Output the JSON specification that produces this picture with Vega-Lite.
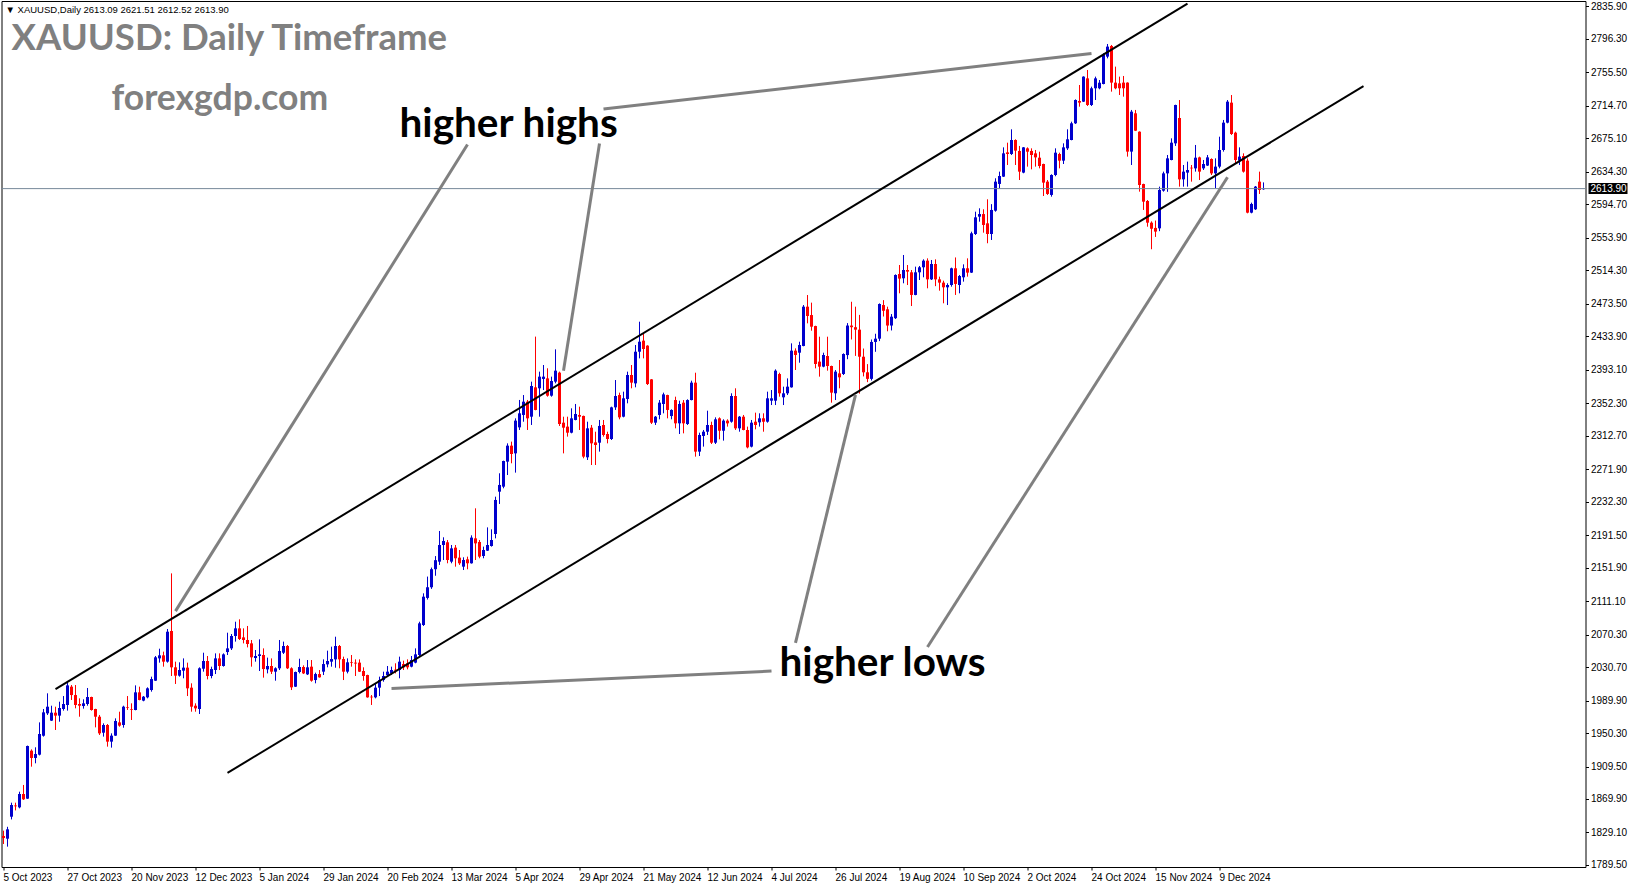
{
"$schema": "https://vega.github.io/schema/vega-lite/v6.json",
"width": 1584, "height": 866,
"autosize": {"type": "none"},
"padding": {"left": 1.5, "top": 1, "right": 45.5, "bottom": 21},
"background": "white",
"config": {"view": {"stroke": "#000000", "strokeWidth": 1}, "axis": {"labelFont": "Liberation Sans", "labelFontSize": 10, "labelColor": "#000000", "grid": false, "title": null, "labelOverlap": false}},
"datasets": {
"candles": [
{"d":"2023-10-05","o":1824.8,"h":1831.3,"l":1815.0,"c":1822.3},
{"d":"2023-10-06","o":1821.5,"h":1836.0,"l":1811.8,"c":1832.9},
{"d":"2023-10-09","o":1848.3,"h":1865.4,"l":1845.0,"c":1862.6},
{"d":"2023-10-10","o":1862.0,"h":1865.4,"l":1856.0,"c":1861.0},
{"d":"2023-10-11","o":1859.7,"h":1878.8,"l":1858.5,"c":1876.0},
{"d":"2023-10-12","o":1876.0,"h":1887.0,"l":1868.7,"c":1869.5},
{"d":"2023-10-13","o":1870.3,"h":1935.0,"l":1870.0,"c":1934.5},
{"d":"2023-10-16","o":1928.8,"h":1930.4,"l":1909.3,"c":1919.9},
{"d":"2023-10-17","o":1919.9,"h":1932.9,"l":1913.4,"c":1924.7},
{"d":"2023-10-18","o":1923.9,"h":1963.3,"l":1923.0,"c":1949.1},
{"d":"2023-10-19","o":1947.0,"h":1979.6,"l":1945.9,"c":1975.5},
{"d":"2023-10-20","o":1974.3,"h":1998.7,"l":1972.3,"c":1982.4},
{"d":"2023-10-23","o":1965.4,"h":1983.6,"l":1965.0,"c":1975.1},
{"d":"2023-10-24","o":1975.1,"h":1982.4,"l":1954.0,"c":1971.5},
{"d":"2023-10-25","o":1971.5,"h":1988.5,"l":1964.1,"c":1980.8},
{"d":"2023-10-26","o":1979.6,"h":1995.4,"l":1977.6,"c":1985.7},
{"d":"2023-10-27","o":1984.5,"h":2012.9,"l":1977.6,"c":2008.4},
{"d":"2023-10-30","o":2006.8,"h":2008.8,"l":1990.6,"c":1996.6},
{"d":"2023-10-31","o":1996.6,"h":2008.8,"l":1980.4,"c":1984.5},
{"d":"2023-11-01","o":1985.7,"h":1992.6,"l":1970.2,"c":1983.6},
{"d":"2023-11-02","o":1983.2,"h":1991.4,"l":1980.0,"c":1986.5},
{"d":"2023-11-03","o":1985.7,"h":2005.2,"l":1983.6,"c":1994.2},
{"d":"2023-11-06","o":1994.2,"h":1994.6,"l":1977.6,"c":1978.4},
{"d":"2023-11-07","o":1979.6,"h":1979.9,"l":1957.2,"c":1970.2},
{"d":"2023-11-08","o":1970.2,"h":1972.3,"l":1947.9,"c":1949.9},
{"d":"2023-11-09","o":1950.7,"h":1962.1,"l":1945.9,"c":1960.1},
{"d":"2023-11-10","o":1960.1,"h":1961.3,"l":1933.7,"c":1939.8},
{"d":"2023-11-13","o":1939.8,"h":1949.9,"l":1932.5,"c":1947.1},
{"d":"2023-11-14","o":1947.1,"h":1968.2,"l":1946.8,"c":1965.0},
{"d":"2023-11-15","o":1963.3,"h":1976.3,"l":1958.0,"c":1959.3},
{"d":"2023-11-16","o":1960.1,"h":1983.6,"l":1956.8,"c":1982.4},
{"d":"2023-11-17","o":1981.6,"h":1995.4,"l":1978.4,"c":1980.8},
{"d":"2023-11-20","o":1979.2,"h":1986.5,"l":1966.2,"c":1978.4},
{"d":"2023-11-21","o":1978.4,"h":2008.4,"l":1978.0,"c":1999.9},
{"d":"2023-11-22","o":1999.9,"h":2006.8,"l":1990.2,"c":1990.6},
{"d":"2023-11-23","o":1989.8,"h":1995.4,"l":1989.0,"c":1994.6},
{"d":"2023-11-24","o":1993.8,"h":2006.0,"l":1992.6,"c":2004.8},
{"d":"2023-11-27","o":2002.7,"h":2019.0,"l":2000.7,"c":2016.1},
{"d":"2023-11-28","o":2014.1,"h":2044.2,"l":2013.8,"c":2042.6},
{"d":"2023-11-29","o":2041.3,"h":2053.1,"l":2036.1,"c":2045.0},
{"d":"2023-11-30","o":2045.0,"h":2049.5,"l":2031.2,"c":2037.3},
{"d":"2023-12-01","o":2037.3,"h":2077.1,"l":2036.1,"c":2073.8},
{"d":"2023-12-04","o":2074.7,"h":2144.9,"l":2019.8,"c":2030.4},
{"d":"2023-12-05","o":2030.4,"h":2037.3,"l":2010.1,"c":2020.2},
{"d":"2023-12-06","o":2020.2,"h":2036.5,"l":2019.0,"c":2027.1},
{"d":"2023-12-07","o":2026.3,"h":2041.3,"l":2017.0,"c":2030.0},
{"d":"2023-12-08","o":2030.0,"h":2036.1,"l":1995.4,"c":2004.8},
{"d":"2023-12-11","o":2005.6,"h":2010.9,"l":1976.3,"c":1982.4},
{"d":"2023-12-12","o":1983.6,"h":1986.5,"l":1976.3,"c":1980.4},
{"d":"2023-12-13","o":1979.6,"h":2030.4,"l":1973.5,"c":2029.2},
{"d":"2023-12-14","o":2028.7,"h":2048.2,"l":2025.1,"c":2038.1},
{"d":"2023-12-15","o":2038.1,"h":2044.2,"l":2015.7,"c":2019.8},
{"d":"2023-12-18","o":2019.8,"h":2031.2,"l":2017.0,"c":2028.3},
{"d":"2023-12-19","o":2027.1,"h":2047.4,"l":2022.2,"c":2041.3},
{"d":"2023-12-20","o":2041.3,"h":2047.4,"l":2027.1,"c":2032.0},
{"d":"2023-12-21","o":2032.0,"h":2047.4,"l":2031.2,"c":2046.2},
{"d":"2023-12-22","o":2049.0,"h":2072.6,"l":2045.4,"c":2053.5},
{"d":"2023-12-26","o":2053.5,"h":2071.0,"l":2051.5,"c":2068.6},
{"d":"2023-12-27","o":2068.6,"h":2086.0,"l":2061.7,"c":2077.9},
{"d":"2023-12-28","o":2077.9,"h":2088.9,"l":2063.7,"c":2064.9},
{"d":"2023-12-29","o":2066.9,"h":2077.9,"l":2059.6,"c":2063.7},
{"d":"2024-01-02","o":2063.7,"h":2080.8,"l":2054.7,"c":2058.8},
{"d":"2024-01-03","o":2059.6,"h":2063.7,"l":2031.2,"c":2042.6},
{"d":"2024-01-04","o":2041.7,"h":2051.5,"l":2037.3,"c":2044.2},
{"d":"2024-01-05","o":2044.2,"h":2064.5,"l":2025.9,"c":2046.2},
{"d":"2024-01-08","o":2045.4,"h":2053.5,"l":2017.8,"c":2028.3},
{"d":"2024-01-09","o":2027.9,"h":2042.2,"l":2023.0,"c":2032.0},
{"d":"2024-01-10","o":2032.0,"h":2041.3,"l":2022.2,"c":2025.1},
{"d":"2024-01-11","o":2025.1,"h":2030.4,"l":2014.1,"c":2029.2},
{"d":"2024-01-12","o":2029.2,"h":2063.7,"l":2027.1,"c":2050.3},
{"d":"2024-01-15","o":2048.2,"h":2061.7,"l":2046.6,"c":2056.4},
{"d":"2024-01-16","o":2056.4,"h":2057.6,"l":2028.3,"c":2029.2},
{"d":"2024-01-17","o":2029.2,"h":2030.4,"l":2002.7,"c":2006.0},
{"d":"2024-01-18","o":2006.8,"h":2025.2,"l":2006.4,"c":2024.7},
{"d":"2024-01-19","o":2024.7,"h":2040.9,"l":2023.0,"c":2030.8},
{"d":"2024-01-22","o":2030.8,"h":2032.8,"l":2022.2,"c":2023.0},
{"d":"2024-01-23","o":2021.8,"h":2039.3,"l":2021.0,"c":2030.4},
{"d":"2024-01-24","o":2031.2,"h":2039.3,"l":2012.9,"c":2014.1},
{"d":"2024-01-25","o":2014.9,"h":2023.9,"l":2010.9,"c":2022.2},
{"d":"2024-01-26","o":2022.2,"h":2027.1,"l":2017.8,"c":2018.2},
{"d":"2024-01-29","o":2025.1,"h":2040.1,"l":2021.0,"c":2034.4},
{"d":"2024-01-30","o":2034.0,"h":2050.7,"l":2030.4,"c":2038.1},
{"d":"2024-01-31","o":2037.3,"h":2055.6,"l":2031.2,"c":2040.5},
{"d":"2024-02-01","o":2040.1,"h":2067.7,"l":2029.9,"c":2056.4},
{"d":"2024-02-02","o":2056.4,"h":2057.6,"l":2029.2,"c":2040.1},
{"d":"2024-02-05","o":2040.5,"h":2043.4,"l":2014.9,"c":2025.1},
{"d":"2024-02-06","o":2025.1,"h":2041.3,"l":2023.0,"c":2036.5},
{"d":"2024-02-07","o":2036.5,"h":2045.4,"l":2031.2,"c":2035.7},
{"d":"2024-02-08","o":2036.1,"h":2040.1,"l":2019.8,"c":2035.0},
{"d":"2024-02-09","o":2036.1,"h":2040.1,"l":2024.7,"c":2025.1},
{"d":"2024-02-12","o":2025.9,"h":2030.4,"l":2014.1,"c":2019.8},
{"d":"2024-02-13","o":2021.0,"h":2021.4,"l":1993.4,"c":1993.8},
{"d":"2024-02-14","o":1994.6,"h":1996.6,"l":1984.5,"c":1993.8},
{"d":"2024-02-15","o":1993.8,"h":2010.9,"l":1992.6,"c":2005.6},
{"d":"2024-02-16","o":2005.6,"h":2019.0,"l":1995.4,"c":2014.9},
{"d":"2024-02-19","o":2014.9,"h":2025.1,"l":2012.9,"c":2019.8},
{"d":"2024-02-20","o":2021.0,"h":2032.0,"l":2018.9,"c":2025.1},
{"d":"2024-02-21","o":2023.0,"h":2031.2,"l":2021.0,"c":2027.1},
{"d":"2024-02-22","o":2027.5,"h":2035.3,"l":2023.0,"c":2026.3},
{"d":"2024-02-23","o":2027.1,"h":2043.4,"l":2017.0,"c":2037.3},
{"d":"2024-02-26","o":2034.4,"h":2038.5,"l":2027.1,"c":2030.4},
{"d":"2024-02-27","o":2035.3,"h":2040.1,"l":2027.9,"c":2030.4},
{"d":"2024-02-28","o":2031.2,"h":2044.2,"l":2030.4,"c":2039.3},
{"d":"2024-02-29","o":2036.1,"h":2053.5,"l":2035.3,"c":2046.2},
{"d":"2024-03-01","o":2045.4,"h":2086.0,"l":2043.4,"c":2084.0},
{"d":"2024-03-04","o":2082.0,"h":2120.6,"l":2080.8,"c":2116.5},
{"d":"2024-03-05","o":2115.0,"h":2141.0,"l":2113.0,"c":2128.0},
{"d":"2024-03-06","o":2128.0,"h":2152.0,"l":2126.0,"c":2150.0},
{"d":"2024-03-07","o":2150.0,"h":2166.0,"l":2142.0,"c":2161.0},
{"d":"2024-03-08","o":2159.2,"h":2196.6,"l":2155.2,"c":2179.5},
{"d":"2024-03-11","o":2179.5,"h":2188.9,"l":2161.2,"c":2184.4},
{"d":"2024-03-12","o":2182.8,"h":2185.6,"l":2157.2,"c":2161.2},
{"d":"2024-03-13","o":2159.2,"h":2179.5,"l":2157.2,"c":2175.4},
{"d":"2024-03-14","o":2176.3,"h":2179.5,"l":2153.1,"c":2163.3},
{"d":"2024-03-15","o":2164.1,"h":2173.4,"l":2155.2,"c":2157.2},
{"d":"2024-03-18","o":2153.1,"h":2164.5,"l":2149.0,"c":2161.2},
{"d":"2024-03-19","o":2162.0,"h":2165.3,"l":2149.9,"c":2157.2},
{"d":"2024-03-20","o":2157.2,"h":2191.3,"l":2156.8,"c":2188.5},
{"d":"2024-03-21","o":2187.6,"h":2224.2,"l":2161.2,"c":2181.5},
{"d":"2024-03-22","o":2183.2,"h":2185.6,"l":2163.3,"c":2165.3},
{"d":"2024-03-25","o":2166.1,"h":2177.5,"l":2163.3,"c":2173.4},
{"d":"2024-03-26","o":2172.6,"h":2201.0,"l":2172.2,"c":2179.5},
{"d":"2024-03-27","o":2178.3,"h":2198.6,"l":2177.5,"c":2185.6},
{"d":"2024-03-28","o":2192.9,"h":2238.4,"l":2187.6,"c":2234.4},
{"d":"2024-04-01","o":2244.5,"h":2266.9,"l":2229.5,"c":2252.7},
{"d":"2024-04-02","o":2250.6,"h":2282.3,"l":2248.6,"c":2281.9},
{"d":"2024-04-03","o":2281.1,"h":2303.4,"l":2264.8,"c":2300.6},
{"d":"2024-04-04","o":2300.6,"h":2305.5,"l":2279.1,"c":2290.4},
{"d":"2024-04-05","o":2291.2,"h":2333.9,"l":2267.7,"c":2331.1},
{"d":"2024-04-08","o":2322.9,"h":2356.3,"l":2319.7,"c":2340.0},
{"d":"2024-04-09","o":2338.0,"h":2362.3,"l":2329.8,"c":2354.2},
{"d":"2024-04-10","o":2354.2,"h":2356.3,"l":2319.7,"c":2333.9},
{"d":"2024-04-11","o":2335.9,"h":2378.6,"l":2325.8,"c":2373.3},
{"d":"2024-04-12","o":2371.7,"h":2433.5,"l":2343.7,"c":2344.1},
{"d":"2024-04-15","o":2370.5,"h":2390.8,"l":2335.9,"c":2384.7},
{"d":"2024-04-16","o":2381.9,"h":2398.9,"l":2368.4,"c":2384.7},
{"d":"2024-04-17","o":2382.6,"h":2394.9,"l":2360.3,"c":2361.5},
{"d":"2024-04-18","o":2361.5,"h":2384.7,"l":2360.3,"c":2379.4},
{"d":"2024-04-19","o":2378.6,"h":2418.0,"l":2376.6,"c":2392.0},
{"d":"2024-04-22","o":2389.6,"h":2390.8,"l":2324.6,"c":2327.0},
{"d":"2024-04-23","o":2328.6,"h":2335.9,"l":2291.2,"c":2322.5},
{"d":"2024-04-24","o":2323.8,"h":2335.9,"l":2311.6,"c":2316.4},
{"d":"2024-04-25","o":2316.4,"h":2346.1,"l":2315.6,"c":2333.9},
{"d":"2024-04-26","o":2331.9,"h":2351.4,"l":2331.5,"c":2339.2},
{"d":"2024-04-29","o":2338.0,"h":2348.1,"l":2319.7,"c":2335.9},
{"d":"2024-04-30","o":2336.8,"h":2337.2,"l":2285.2,"c":2287.2},
{"d":"2024-05-01","o":2286.4,"h":2329.8,"l":2283.1,"c":2321.7},
{"d":"2024-05-02","o":2322.5,"h":2325.8,"l":2277.0,"c":2303.4},
{"d":"2024-05-03","o":2304.6,"h":2317.6,"l":2277.0,"c":2301.4},
{"d":"2024-05-06","o":2304.2,"h":2331.9,"l":2293.3,"c":2324.6},
{"d":"2024-05-07","o":2325.8,"h":2331.9,"l":2311.6,"c":2313.6},
{"d":"2024-05-08","o":2314.8,"h":2317.6,"l":2303.4,"c":2308.7},
{"d":"2024-05-09","o":2308.7,"h":2348.1,"l":2307.5,"c":2347.3},
{"d":"2024-05-10","o":2347.3,"h":2380.6,"l":2344.1,"c":2361.1},
{"d":"2024-05-13","o":2362.3,"h":2365.2,"l":2332.7,"c":2335.1},
{"d":"2024-05-14","o":2335.9,"h":2366.4,"l":2335.1,"c":2358.3},
{"d":"2024-05-15","o":2357.5,"h":2390.8,"l":2352.2,"c":2386.7},
{"d":"2024-05-16","o":2386.7,"h":2398.9,"l":2370.5,"c":2377.4},
{"d":"2024-05-17","o":2376.5,"h":2423.3,"l":2371.7,"c":2415.1},
{"d":"2024-05-20","o":2415.1,"h":2451.7,"l":2407.0,"c":2427.3},
{"d":"2024-05-21","o":2428.6,"h":2437.5,"l":2407.0,"c":2418.4},
{"d":"2024-05-22","o":2422.5,"h":2423.0,"l":2374.5,"c":2375.7},
{"d":"2024-05-23","o":2381.4,"h":2381.8,"l":2327.0,"c":2328.6},
{"d":"2024-05-24","o":2328.6,"h":2336.7,"l":2325.8,"c":2335.9},
{"d":"2024-05-27","o":2338.0,"h":2356.2,"l":2332.7,"c":2353.0},
{"d":"2024-05-28","o":2351.4,"h":2365.2,"l":2340.0,"c":2363.1},
{"d":"2024-05-29","o":2362.3,"h":2362.7,"l":2333.9,"c":2344.1},
{"d":"2024-05-30","o":2336.7,"h":2344.9,"l":2332.7,"c":2344.1},
{"d":"2024-05-31","o":2356.2,"h":2360.3,"l":2321.7,"c":2327.8},
{"d":"2024-06-03","o":2327.8,"h":2355.4,"l":2314.8,"c":2351.4},
{"d":"2024-06-04","o":2353.0,"h":2356.2,"l":2315.6,"c":2327.8},
{"d":"2024-06-05","o":2327.0,"h":2357.1,"l":2325.8,"c":2356.2},
{"d":"2024-06-06","o":2356.2,"h":2379.8,"l":2355.8,"c":2377.4},
{"d":"2024-06-07","o":2377.4,"h":2389.5,"l":2287.2,"c":2293.3},
{"d":"2024-06-10","o":2293.3,"h":2316.4,"l":2288.0,"c":2313.6},
{"d":"2024-06-11","o":2312.4,"h":2319.7,"l":2299.4,"c":2317.6},
{"d":"2024-06-12","o":2317.6,"h":2343.2,"l":2313.6,"c":2325.8},
{"d":"2024-06-13","o":2325.8,"h":2329.8,"l":2302.6,"c":2304.2},
{"d":"2024-06-14","o":2304.2,"h":2335.1,"l":2302.6,"c":2332.7},
{"d":"2024-06-17","o":2333.9,"h":2335.1,"l":2308.3,"c":2318.8},
{"d":"2024-06-18","o":2318.8,"h":2332.7,"l":2306.7,"c":2331.1},
{"d":"2024-06-19","o":2331.1,"h":2332.7,"l":2323.8,"c":2327.8},
{"d":"2024-06-20","o":2329.8,"h":2364.4,"l":2328.6,"c":2361.1},
{"d":"2024-06-21","o":2361.1,"h":2370.5,"l":2319.7,"c":2321.7},
{"d":"2024-06-24","o":2321.7,"h":2336.7,"l":2317.6,"c":2335.9},
{"d":"2024-06-25","o":2335.9,"h":2338.0,"l":2319.3,"c":2319.7},
{"d":"2024-06-26","o":2319.7,"h":2323.8,"l":2297.3,"c":2298.5},
{"d":"2024-06-27","o":2299.4,"h":2331.9,"l":2298.5,"c":2328.6},
{"d":"2024-06-28","o":2329.8,"h":2340.8,"l":2320.5,"c":2325.8},
{"d":"2024-07-01","o":2329.0,"h":2340.0,"l":2323.8,"c":2333.9},
{"d":"2024-07-02","o":2333.9,"h":2340.0,"l":2317.6,"c":2329.8},
{"d":"2024-07-03","o":2329.8,"h":2366.4,"l":2328.6,"c":2358.3},
{"d":"2024-07-04","o":2355.4,"h":2368.4,"l":2350.1,"c":2358.3},
{"d":"2024-07-05","o":2355.4,"h":2393.6,"l":2350.1,"c":2392.0},
{"d":"2024-07-08","o":2387.9,"h":2389.5,"l":2360.3,"c":2364.4},
{"d":"2024-07-09","o":2359.5,"h":2372.5,"l":2350.1,"c":2364.4},
{"d":"2024-07-10","o":2364.4,"h":2382.6,"l":2362.3,"c":2372.5},
{"d":"2024-07-11","o":2371.7,"h":2425.3,"l":2371.3,"c":2416.4},
{"d":"2024-07-12","o":2416.4,"h":2419.2,"l":2392.8,"c":2411.1},
{"d":"2024-07-15","o":2413.9,"h":2427.3,"l":2401.7,"c":2423.3},
{"d":"2024-07-16","o":2422.1,"h":2472.0,"l":2421.7,"c":2470.0},
{"d":"2024-07-17","o":2470.0,"h":2484.2,"l":2449.7,"c":2458.6},
{"d":"2024-07-18","o":2459.8,"h":2474.9,"l":2440.7,"c":2445.6},
{"d":"2024-07-19","o":2446.4,"h":2446.8,"l":2394.8,"c":2400.1},
{"d":"2024-07-22","o":2403.0,"h":2433.4,"l":2384.7,"c":2396.9},
{"d":"2024-07-23","o":2396.9,"h":2413.9,"l":2396.1,"c":2411.1},
{"d":"2024-07-24","o":2409.9,"h":2433.4,"l":2392.0,"c":2397.7},
{"d":"2024-07-25","o":2397.7,"h":2398.1,"l":2353.0,"c":2365.2},
{"d":"2024-07-26","o":2364.4,"h":2392.8,"l":2356.2,"c":2390.8},
{"d":"2024-07-29","o":2388.7,"h":2405.0,"l":2370.5,"c":2383.9},
{"d":"2024-07-30","o":2387.9,"h":2413.1,"l":2386.7,"c":2412.3},
{"d":"2024-07-31","o":2411.0,"h":2450.0,"l":2406.0,"c":2447.0},
{"d":"2024-08-01","o":2447.0,"h":2476.0,"l":2430.0,"c":2445.0},
{"d":"2024-08-02","o":2445.0,"h":2470.0,"l":2410.0,"c":2442.0},
{"d":"2024-08-05","o":2442.0,"h":2460.0,"l":2364.0,"c":2409.0},
{"d":"2024-08-06","o":2409.0,"h":2419.0,"l":2385.0,"c":2390.0},
{"d":"2024-08-07","o":2390.0,"h":2400.0,"l":2378.0,"c":2382.0},
{"d":"2024-08-08","o":2382.0,"h":2430.0,"l":2380.0,"c":2427.0},
{"d":"2024-08-09","o":2427.0,"h":2437.0,"l":2415.0,"c":2431.0},
{"d":"2024-08-12","o":2431.0,"h":2474.0,"l":2428.0,"c":2473.3},
{"d":"2024-08-13","o":2472.0,"h":2478.0,"l":2458.0,"c":2465.0},
{"d":"2024-08-14","o":2466.8,"h":2470.0,"l":2440.0,"c":2447.0},
{"d":"2024-08-15","o":2447.0,"h":2461.0,"l":2441.0,"c":2457.8},
{"d":"2024-08-16","o":2456.0,"h":2509.4,"l":2455.0,"c":2508.6},
{"d":"2024-08-19","o":2509.8,"h":2520.8,"l":2486.3,"c":2504.2},
{"d":"2024-08-20","o":2504.6,"h":2533.0,"l":2498.5,"c":2514.7},
{"d":"2024-08-21","o":2514.7,"h":2520.8,"l":2496.4,"c":2512.7},
{"d":"2024-08-22","o":2511.9,"h":2514.7,"l":2470.8,"c":2484.3},
{"d":"2024-08-23","o":2484.3,"h":2518.8,"l":2483.9,"c":2511.9},
{"d":"2024-08-26","o":2511.9,"h":2519.6,"l":2502.5,"c":2518.0},
{"d":"2024-08-27","o":2518.0,"h":2527.7,"l":2505.8,"c":2526.1},
{"d":"2024-08-28","o":2526.1,"h":2528.9,"l":2492.4,"c":2503.3},
{"d":"2024-08-29","o":2503.3,"h":2526.9,"l":2502.5,"c":2522.0},
{"d":"2024-08-30","o":2522.0,"h":2527.7,"l":2495.0,"c":2503.3},
{"d":"2024-09-02","o":2503.3,"h":2506.6,"l":2489.5,"c":2499.3},
{"d":"2024-09-03","o":2499.3,"h":2501.7,"l":2474.1,"c":2493.6},
{"d":"2024-09-04","o":2493.6,"h":2498.5,"l":2472.0,"c":2496.4},
{"d":"2024-09-05","o":2496.4,"h":2517.6,"l":2494.4,"c":2516.8},
{"d":"2024-09-06","o":2516.8,"h":2530.0,"l":2484.3,"c":2497.7},
{"d":"2024-09-09","o":2496.4,"h":2508.6,"l":2486.3,"c":2507.4},
{"d":"2024-09-10","o":2505.8,"h":2521.6,"l":2500.5,"c":2516.8},
{"d":"2024-09-11","o":2516.8,"h":2528.9,"l":2506.6,"c":2511.5},
{"d":"2024-09-12","o":2511.5,"h":2561.4,"l":2511.1,"c":2559.4},
{"d":"2024-09-13","o":2558.6,"h":2585.8,"l":2557.4,"c":2578.9},
{"d":"2024-09-16","o":2579.7,"h":2589.9,"l":2573.6,"c":2582.9},
{"d":"2024-09-17","o":2582.9,"h":2588.7,"l":2560.2,"c":2569.6},
{"d":"2024-09-18","o":2571.6,"h":2600.9,"l":2547.3,"c":2558.6},
{"d":"2024-09-19","o":2558.6,"h":2595.0,"l":2551.3,"c":2587.9},
{"d":"2024-09-20","o":2587.0,"h":2626.5,"l":2585.8,"c":2622.4},
{"d":"2024-09-23","o":2619.6,"h":2634.6,"l":2614.3,"c":2629.3},
{"d":"2024-09-24","o":2628.5,"h":2664.2,"l":2628.1,"c":2656.9},
{"d":"2024-09-25","o":2658.1,"h":2669.9,"l":2642.7,"c":2656.1},
{"d":"2024-09-26","o":2656.1,"h":2686.2,"l":2654.9,"c":2673.2},
{"d":"2024-09-27","o":2673.2,"h":2674.0,"l":2642.7,"c":2660.2},
{"d":"2024-09-30","o":2659.8,"h":2665.9,"l":2624.4,"c":2634.6},
{"d":"2024-10-01","o":2633.4,"h":2664.6,"l":2632.6,"c":2664.2},
{"d":"2024-10-02","o":2663.0,"h":2664.2,"l":2640.7,"c":2658.9},
{"d":"2024-10-03","o":2659.8,"h":2663.0,"l":2637.4,"c":2654.9},
{"d":"2024-10-04","o":2656.9,"h":2661.0,"l":2640.7,"c":2652.0},
{"d":"2024-10-07","o":2651.6,"h":2658.9,"l":2638.6,"c":2641.5},
{"d":"2024-10-08","o":2643.9,"h":2644.3,"l":2604.9,"c":2621.2},
{"d":"2024-10-09","o":2622.4,"h":2624.4,"l":2606.2,"c":2607.4},
{"d":"2024-10-10","o":2606.2,"h":2631.4,"l":2604.1,"c":2630.5},
{"d":"2024-10-11","o":2630.5,"h":2663.0,"l":2629.0,"c":2657.7},
{"d":"2024-10-14","o":2656.1,"h":2657.7,"l":2638.6,"c":2648.0},
{"d":"2024-10-15","o":2648.0,"h":2669.1,"l":2643.9,"c":2664.2},
{"d":"2024-10-16","o":2663.0,"h":2686.2,"l":2661.0,"c":2674.0},
{"d":"2024-10-17","o":2673.2,"h":2695.5,"l":2672.8,"c":2693.5},
{"d":"2024-10-18","o":2693.5,"h":2722.7,"l":2692.7,"c":2721.9},
{"d":"2024-10-21","o":2720.7,"h":2740.2,"l":2713.8,"c":2718.7},
{"d":"2024-10-22","o":2719.9,"h":2750.8,"l":2719.5,"c":2750.4},
{"d":"2024-10-23","o":2748.3,"h":2758.5,"l":2714.6,"c":2715.8},
{"d":"2024-10-24","o":2715.8,"h":2738.2,"l":2714.6,"c":2736.2},
{"d":"2024-10-25","o":2736.2,"h":2750.4,"l":2721.9,"c":2748.3},
{"d":"2024-10-28","o":2736.2,"h":2746.3,"l":2735.0,"c":2743.0},
{"d":"2024-10-29","o":2741.4,"h":2778.8,"l":2741.0,"c":2776.8},
{"d":"2024-10-30","o":2774.8,"h":2790.2,"l":2772.7,"c":2787.0},
{"d":"2024-10-31","o":2787.8,"h":2789.0,"l":2732.1,"c":2743.1},
{"d":"2024-11-01","o":2743.1,"h":2762.6,"l":2735.0,"c":2736.2},
{"d":"2024-11-04","o":2742.2,"h":2750.4,"l":2728.0,"c":2736.2},
{"d":"2024-11-05","o":2743.1,"h":2751.2,"l":2726.0,"c":2736.2},
{"d":"2024-11-06","o":2743.1,"h":2743.5,"l":2652.9,"c":2659.0},
{"d":"2024-11-07","o":2659.0,"h":2709.8,"l":2642.7,"c":2707.7},
{"d":"2024-11-08","o":2705.7,"h":2709.8,"l":2684.1,"c":2684.5},
{"d":"2024-11-11","o":2683.3,"h":2683.7,"l":2610.2,"c":2618.3},
{"d":"2024-11-12","o":2619.5,"h":2619.9,"l":2587.9,"c":2598.0},
{"d":"2024-11-13","o":2598.8,"h":2600.0,"l":2567.5,"c":2572.4},
{"d":"2024-11-14","o":2572.4,"h":2574.0,"l":2540.0,"c":2565.0},
{"d":"2024-11-15","o":2566.0,"h":2575.0,"l":2555.0,"c":2561.5},
{"d":"2024-11-18","o":2565.5,"h":2616.3,"l":2562.0,"c":2612.2},
{"d":"2024-11-19","o":2611.4,"h":2634.6,"l":2610.2,"c":2632.5},
{"d":"2024-11-20","o":2632.5,"h":2654.9,"l":2610.0,"c":2650.8},
{"d":"2024-11-21","o":2648.8,"h":2675.2,"l":2648.4,"c":2669.9},
{"d":"2024-11-22","o":2669.1,"h":2716.2,"l":2665.9,"c":2715.8},
{"d":"2024-11-25","o":2700.0,"h":2721.9,"l":2616.3,"c":2625.2},
{"d":"2024-11-26","o":2625.2,"h":2642.7,"l":2616.3,"c":2634.6},
{"d":"2024-11-27","o":2633.4,"h":2646.8,"l":2616.3,"c":2636.6},
{"d":"2024-11-28","o":2639.4,"h":2642.7,"l":2622.4,"c":2638.6},
{"d":"2024-11-29","o":2638.6,"h":2667.1,"l":2634.6,"c":2651.6},
{"d":"2024-12-02","o":2652.0,"h":2652.9,"l":2624.4,"c":2634.6},
{"d":"2024-12-03","o":2638.6,"h":2648.8,"l":2636.6,"c":2643.9},
{"d":"2024-12-04","o":2642.0,"h":2654.9,"l":2641.5,"c":2652.0},
{"d":"2024-12-05","o":2650.0,"h":2650.8,"l":2630.5,"c":2632.5},
{"d":"2024-12-06","o":2632.5,"h":2650.8,"l":2614.3,"c":2640.7},
{"d":"2024-12-09","o":2640.7,"h":2677.2,"l":2638.6,"c":2661.0},
{"d":"2024-12-10","o":2661.0,"h":2697.6,"l":2659.0,"c":2694.3},
{"d":"2024-12-11","o":2694.3,"h":2721.9,"l":2693.5,"c":2719.9},
{"d":"2024-12-12","o":2718.7,"h":2728.0,"l":2679.3,"c":2680.5},
{"d":"2024-12-13","o":2682.1,"h":2683.3,"l":2643.9,"c":2648.8},
{"d":"2024-12-16","o":2648.0,"h":2664.2,"l":2642.7,"c":2652.9},
{"d":"2024-12-17","o":2653.7,"h":2656.9,"l":2633.4,"c":2634.6},
{"d":"2024-12-18","o":2648.0,"h":2650.8,"l":2583.8,"c":2584.6},
{"d":"2024-12-19","o":2584.6,"h":2596.8,"l":2583.8,"c":2595.2},
{"d":"2024-12-20","o":2588.7,"h":2617.1,"l":2587.9,"c":2616.3},
{"d":"2024-12-23","o":2622.4,"h":2634.6,"l":2607.4,"c":2612.2},
{"d":"2024-12-24","o":2613.09,"h":2621.51,"l":2612.52,"c":2613.90}
],
"channels": [
{"id":"upper","d":"2023-10-24","p":2003.8},{"id":"upper","d":"2024-11-27","p":2839.4},
{"id":"lower","d":"2023-12-22","p":1901.7},{"id":"lower","d":"2025-01-30","p":2738.8}
],
"pointers": [
{"id":"a","d":"2024-03-19","p":2667.6},{"id":"a","d":"2023-12-05","p":2098.9},
{"id":"b","d":"2024-05-06","p":2668.9},{"id":"b","d":"2024-04-23","p":2392.0},
{"id":"c","d":"2024-05-07","p":2711.0},{"id":"c","d":"2024-10-24","p":2778.6},
{"id":"d","d":"2024-02-21","p":2004.5},{"id":"d","d":"2024-07-04","p":2025.8},
{"id":"e","d":"2024-07-12","p":2060.1},{"id":"e","d":"2024-08-02","p":2362.4},
{"id":"f","d":"2024-08-28","p":2055.2},{"id":"f","d":"2024-12-11","p":2627.7}
],
"graytitle": [{"t":"XAUUSD: Daily Timeframe","d":"2023-10-09","p":2795.7}],
"graysite": [{"t":"forexgdp.com","d":"2023-11-13","p":2723.4}],
"blacktexts": [
{"t":"higher highs","d":"2024-02-23","p":2691.5},
{"t":"higher lows","d":"2024-07-08","p":2034.5}
],
"header": [{"t":"▼ XAUUSD,Daily  2613.09 2621.51 2612.52 2613.90","d":"2023-10-05","p":2831.6}],
"last": [{"p":2613.90}]
},
"layer": [
{"data":{"name":"candles"},
 "mark":{"type":"rule","strokeWidth":1},
 "encoding":{
  "x":{"field":"d","type":"ordinal",
   "scale":{"type":"band","paddingInner":0,"paddingOuter":0,"align":0,
    "domain":["2023-10-05","2023-10-06","2023-10-09","2023-10-10","2023-10-11","2023-10-12","2023-10-13","2023-10-16","2023-10-17","2023-10-18","2023-10-19","2023-10-20","2023-10-23","2023-10-24","2023-10-25","2023-10-26","2023-10-27","2023-10-30","2023-10-31",
"2023-11-01","2023-11-02","2023-11-03","2023-11-06","2023-11-07","2023-11-08","2023-11-09","2023-11-10","2023-11-13","2023-11-14","2023-11-15","2023-11-16","2023-11-17","2023-11-20","2023-11-21","2023-11-22","2023-11-23","2023-11-24","2023-11-27","2023-11-28","2023-11-29","2023-11-30",
"2023-12-01","2023-12-04","2023-12-05","2023-12-06","2023-12-07","2023-12-08","2023-12-11","2023-12-12","2023-12-13","2023-12-14","2023-12-15","2023-12-18","2023-12-19","2023-12-20","2023-12-21","2023-12-22","2023-12-26","2023-12-27","2023-12-28","2023-12-29",
"2024-01-02","2024-01-03","2024-01-04","2024-01-05","2024-01-08","2024-01-09","2024-01-10","2024-01-11","2024-01-12","2024-01-15","2024-01-16","2024-01-17","2024-01-18","2024-01-19","2024-01-22","2024-01-23","2024-01-24","2024-01-25","2024-01-26","2024-01-29","2024-01-30","2024-01-31",
"2024-02-01","2024-02-02","2024-02-05","2024-02-06","2024-02-07","2024-02-08","2024-02-09","2024-02-12","2024-02-13","2024-02-14","2024-02-15","2024-02-16","2024-02-19","2024-02-20","2024-02-21","2024-02-22","2024-02-23","2024-02-26","2024-02-27","2024-02-28","2024-02-29",
"2024-03-01","2024-03-04","2024-03-05","2024-03-06","2024-03-07","2024-03-08","2024-03-11","2024-03-12","2024-03-13","2024-03-14","2024-03-15","2024-03-18","2024-03-19","2024-03-20","2024-03-21","2024-03-22","2024-03-25","2024-03-26","2024-03-27","2024-03-28",
"2024-04-01","2024-04-02","2024-04-03","2024-04-04","2024-04-05","2024-04-08","2024-04-09","2024-04-10","2024-04-11","2024-04-12","2024-04-15","2024-04-16","2024-04-17","2024-04-18","2024-04-19","2024-04-22","2024-04-23","2024-04-24","2024-04-25","2024-04-26","2024-04-29","2024-04-30",
"2024-05-01","2024-05-02","2024-05-03","2024-05-06","2024-05-07","2024-05-08","2024-05-09","2024-05-10","2024-05-13","2024-05-14","2024-05-15","2024-05-16","2024-05-17","2024-05-20","2024-05-21","2024-05-22","2024-05-23","2024-05-24","2024-05-27","2024-05-28","2024-05-29","2024-05-30","2024-05-31",
"2024-06-03","2024-06-04","2024-06-05","2024-06-06","2024-06-07","2024-06-10","2024-06-11","2024-06-12","2024-06-13","2024-06-14","2024-06-17","2024-06-18","2024-06-19","2024-06-20","2024-06-21","2024-06-24","2024-06-25","2024-06-26","2024-06-27","2024-06-28",
"2024-07-01","2024-07-02","2024-07-03","2024-07-04","2024-07-05","2024-07-08","2024-07-09","2024-07-10","2024-07-11","2024-07-12","2024-07-15","2024-07-16","2024-07-17","2024-07-18","2024-07-19","2024-07-22","2024-07-23","2024-07-24","2024-07-25","2024-07-26","2024-07-29","2024-07-30","2024-07-31",
"2024-08-01","2024-08-02","2024-08-05","2024-08-06","2024-08-07","2024-08-08","2024-08-09","2024-08-12","2024-08-13","2024-08-14","2024-08-15","2024-08-16","2024-08-19","2024-08-20","2024-08-21","2024-08-22","2024-08-23","2024-08-26","2024-08-27","2024-08-28","2024-08-29","2024-08-30",
"2024-09-02","2024-09-03","2024-09-04","2024-09-05","2024-09-06","2024-09-09","2024-09-10","2024-09-11","2024-09-12","2024-09-13","2024-09-16","2024-09-17","2024-09-18","2024-09-19","2024-09-20","2024-09-23","2024-09-24","2024-09-25","2024-09-26","2024-09-27","2024-09-30",
"2024-10-01","2024-10-02","2024-10-03","2024-10-04","2024-10-07","2024-10-08","2024-10-09","2024-10-10","2024-10-11","2024-10-14","2024-10-15","2024-10-16","2024-10-17","2024-10-18","2024-10-21","2024-10-22","2024-10-23","2024-10-24","2024-10-25","2024-10-28","2024-10-29","2024-10-30","2024-10-31",
"2024-11-01","2024-11-04","2024-11-05","2024-11-06","2024-11-07","2024-11-08","2024-11-11","2024-11-12","2024-11-13","2024-11-14","2024-11-15","2024-11-18","2024-11-19","2024-11-20","2024-11-21","2024-11-22","2024-11-25","2024-11-26","2024-11-27","2024-11-28","2024-11-29",
"2024-12-02","2024-12-03","2024-12-04","2024-12-05","2024-12-06","2024-12-09","2024-12-10","2024-12-11","2024-12-12","2024-12-13","2024-12-16","2024-12-17","2024-12-18","2024-12-19","2024-12-20","2024-12-23","2024-12-24",
"2024-12-26","2024-12-27","2024-12-30","2024-12-31",
"2025-01-02","2025-01-03","2025-01-06","2025-01-07","2025-01-08","2025-01-09","2025-01-10","2025-01-13","2025-01-14","2025-01-15","2025-01-16","2025-01-17","2025-01-20","2025-01-21","2025-01-22","2025-01-23","2025-01-24","2025-01-27","2025-01-28","2025-01-29","2025-01-30","2025-01-31",
"2025-02-03","2025-02-04","2025-02-05","2025-02-06","2025-02-07","2025-02-10","2025-02-11","2025-02-12","2025-02-13","2025-02-14","2025-02-17","2025-02-18","2025-02-19","2025-02-20","2025-02-21","2025-02-24","2025-02-25","2025-02-26","2025-02-27","2025-02-28",
"2025-03-03","2025-03-04","2025-03-05","2025-03-06","2025-03-07","2025-03-10","2025-03-11","2025-03-12","2025-03-13","2025-03-14","2025-03-17","2025-03-18","2025-03-19","2025-03-20","2025-03-21","2025-03-24","2025-03-25","2025-03-26","2025-03-27","2025-03-28","2025-03-31",
"2025-04-01","2025-04-02","2025-04-03","2025-04-04","2025-04-07","2025-04-08","2025-04-09","2025-04-10","2025-04-11","2025-04-14","2025-04-15","2025-04-16","2025-04-17"]},
   "axis":{"orient":"bottom","bandPosition":0.5,"labelAngle":0,"labelAlign":"left","labelBaseline":"top","tickSize":3,"tickColor":"#000000","labelPadding":2,"domain":false,"labelOverlap":false,"labelBound":false,"labelFlush":false,
    "values":["2023-10-05","2023-10-27","2023-11-20","2023-12-12","2024-01-05","2024-01-29","2024-02-20","2024-03-13","2024-04-05","2024-04-29","2024-05-21","2024-06-12","2024-07-04","2024-07-26","2024-08-19","2024-09-10","2024-10-02","2024-10-24","2024-11-15","2024-12-09"],
    "labelExpr":"utcFormat(toDate(datum.value), '%-d %b %Y')"}},
  "y":{"field":"l","type":"quantitative",
   "scale":{"domain":[1787.0,2842.6],"nice":false,"zero":false},
   "axis":{"orient":"right","tickCount":100,"tickSize":3,"tickColor":"#000000","labelPadding":2,"domain":false,"format":".2f","labelOverlap":false,"labelBound":false,"labelFlush":false,
    "values":[2835.9,2796.3,2755.5,2714.7,2675.1,2634.3,2594.7,2553.9,2514.3,2473.5,2433.9,2393.1,2352.3,2312.7,2271.9,2232.3,2191.5,2151.9,2111.1,2070.3,2030.7,1989.9,1950.3,1909.5,1869.9,1829.1,1789.5]}},
  "y2":{"field":"h"},
  "color":{"condition":{"test":"datum.c >= datum.o","value":"#0000CD"},"value":"#FF0000"}
 }},
{"data":{"name":"candles"},
 "mark":{"type":"bar","size":3},
 "encoding":{
  "x":{"field":"d","type":"ordinal"},
  "y":{"field":"o","type":"quantitative"},
  "y2":{"field":"c"},
  "color":{"condition":{"test":"datum.c >= datum.o","value":"#0000CD"},"value":"#FF0000"}
 }},
{"data":{"name":"last"},
 "mark":{"type":"rule","color":"#778899","strokeWidth":1},
 "encoding":{"y":{"field":"p","type":"quantitative"}}},
{"data":{"name":"channels"},
 "mark":{"type":"line","color":"#000000","strokeWidth":2},
 "encoding":{"x":{"field":"d","type":"ordinal","bandPosition":0.5},"y":{"field":"p","type":"quantitative"},"detail":{"field":"id"}}},
{"data":{"name":"pointers"},
 "mark":{"type":"line","color":"#808080","strokeWidth":3},
 "encoding":{"x":{"field":"d","type":"ordinal","bandPosition":0.5},"y":{"field":"p","type":"quantitative"},"detail":{"field":"id"}}},
{"data":{"name":"graytitle"},
 "mark":{"type":"text","font":"Lato","fontWeight":"bold","fontSize":36.5,"color":"#808080","align":"left","baseline":"middle"},
 "encoding":{"x":{"field":"d","type":"ordinal","bandPosition":0.5},"y":{"field":"p","type":"quantitative"},"text":{"field":"t"}}},
{"data":{"name":"graysite"},
 "mark":{"type":"text","font":"Lato","fontWeight":"bold","fontSize":35.5,"color":"#808080","align":"left","baseline":"middle"},
 "encoding":{"x":{"field":"d","type":"ordinal","bandPosition":0.5},"y":{"field":"p","type":"quantitative"},"text":{"field":"t"}}},
{"data":{"name":"blacktexts"},
 "mark":{"type":"text","font":"Lato","fontWeight":"bold","fontSize":40.5,"color":"#000000","align":"left","baseline":"middle"},
 "encoding":{"x":{"field":"d","type":"ordinal","bandPosition":0.5},"y":{"field":"p","type":"quantitative"},"text":{"field":"t"}}},
{"data":{"name":"header"},
 "mark":{"type":"text","font":"Liberation Sans","fontSize":9.5,"color":"#000000","align":"left","baseline":"middle","dx":2},
 "encoding":{"x":{"field":"d","type":"ordinal","bandPosition":0.5},"y":{"field":"p","type":"quantitative"},"text":{"field":"t"}}},
{"data":{"name":"last"},
 "mark":{"type":"rect","color":"#000000","xOffset":3,"x2Offset":42,"yOffset":-5.5,"y2Offset":5.5,"clip":false},
 "encoding":{"x":{"value":"width"},"x2":{"value":"width"},"y":{"field":"p","type":"quantitative"},"y2":{"field":"p"}}},
{"data":{"name":"last"},
 "mark":{"type":"text","color":"#FFFFFF","font":"Liberation Sans","fontSize":10,"align":"left","baseline":"middle","dx":5},
 "encoding":{"x":{"value":"width"},"y":{"field":"p","type":"quantitative"},"text":{"field":"p","type":"quantitative","format":".2f"}}}
]
}
